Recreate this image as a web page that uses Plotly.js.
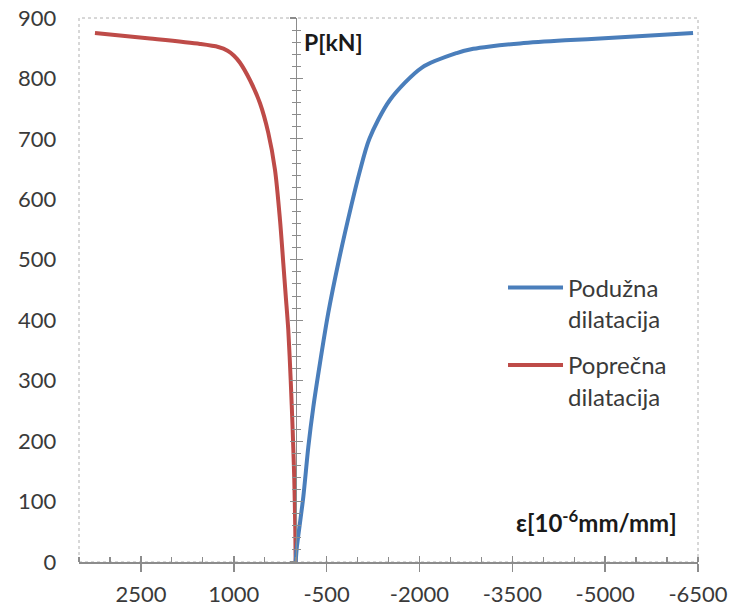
<!DOCTYPE html>
<html>
<head>
<meta charset="utf-8">
<script src="https://cdn.plot.ly/plotly-3.0.1.min.js"></script>
<style>html,body{margin:0;padding:0;background:#fff}#chart{width:730px;height:613px}</style>
</head>
<body>
<div id="chart"></div>
<script>
// Podužna dilatacija (longitudinal strain) in 10^-6 mm/mm, with load P [kN]
const podStrain = [0, -20, -124, -204, -285, -393, -527, -700, -900, -1030, -1190, -1520, -2040, -2602, -2870, -3140, -3624, -4351, -4917, -6420];
const podLoad   = [0, 25, 108, 190, 256, 329, 412, 500, 590, 644, 700, 764, 818, 842, 849, 853, 858, 863, 866, 875];
// Poprečna dilatacija (transverse strain)
const popStrain = [0, 6, 22, 48, 80, 119, 160, 200, 253, 334, 442, 576, 737, 899, 1000, 1100, 1250, 1545, 2353, 3242];
const popLoad   = [0, 53, 136, 218, 301, 384, 440, 495, 566, 649, 710, 759, 797, 826, 838, 846, 852, 857, 866, 875];

const xTickVals = [2500, 1000, -500, -2000, -3500, -5000, -6500];
const yTickVals = [0, 100, 200, 300, 400, 500, 600, 700, 800, 900];
const seriesNames = ['Podužna<br>dilatacija', 'Poprečna<br>dilatacija'];

const FONT = 'Lato, "Open Sans", sans-serif';
const TXT = '#3a3a3a';
const AX = '#8c8c8c';

const traces = [
  {x: popStrain, y: popLoad, name: seriesNames[1], legendgroup: 'b', legendrank: 2,
   type: 'scatter', mode: 'lines', xaxis: 'x', yaxis: 'y',
   line: {color: '#be4b48', width: 4, shape: 'spline', smoothing: 0.8}},
  {x: podStrain, y: podLoad, name: seriesNames[0], legendgroup: 'a', legendrank: 1,
   type: 'scatter', mode: 'lines', xaxis: 'x2', yaxis: 'y2',
   line: {color: '#4a7ebb', width: 4, shape: 'spline', smoothing: 0.8}}
];

const layout = {
  width: 730, height: 613,
  margin: {l: 79, r: 32, t: 18, b: 51},
  paper_bgcolor: '#fff', plot_bgcolor: '#fff',
  font: {family: FONT, color: TXT, size: 22},
  showlegend: true,
  legend: {x: 0.685, y: 0.545, xanchor: 'left', yanchor: 'top', valign: 'top',
           traceorder: 'grouped', tracegroupgap: 12, itemwidth: 55,
           font: {family: FONT, size: 24, color: TXT}, bgcolor: 'rgba(0,0,0,0)'},
  xaxis: {range: [3500, -6500], autorange: false, tickmode: 'array', tickvals: xTickVals,
          ticktext: xTickVals.map(String), showgrid: false, zeroline: false,
          showline: true, linecolor: AX, linewidth: 1.5,
          ticks: 'outside', ticklen: 8, tickcolor: AX, tickwidth: 1.5,
          ticklabelstandoff: 4,
          minor: {ticks: 'inside', tickmode: 'linear', tick0: 0, dtick: 500, ticklen: 5, tickcolor: AX, tickwidth: 1.2},
          tickfont: {family: FONT, size: 22, color: TXT}},
  xaxis2: {overlaying: 'x', anchor: 'y2', side: 'bottom', matches: 'x',
           tickmode: 'array', tickvals: xTickVals, showticklabels: false, showgrid: false,
           zeroline: false, showline: false, ticks: 'inside', ticklen: 6, tickcolor: AX, tickwidth: 1.5},
  yaxis: {range: [0, 900], autorange: false, anchor: 'free', position: 0.35, side: 'left',
          tickmode: 'array', tickvals: yTickVals,
          showgrid: false, zeroline: false, showline: true, linecolor: AX, linewidth: 1.2,
          ticks: 'outside', ticklen: 6, tickcolor: AX, tickwidth: 1.2,
          minor: {ticks: 'outside', tickmode: 'linear', tick0: 0, dtick: 20, ticklen: 4, tickcolor: AX, tickwidth: 1},
          ticklabelstandoff: 229, tickfont: {family: FONT, size: 22, color: TXT}},
  yaxis2: {overlaying: 'y', anchor: 'free', position: 0.35, side: 'left', matches: 'y',
           tickmode: 'array', tickvals: yTickVals, showticklabels: false,
           showgrid: false, zeroline: false, showline: false,
           ticks: 'inside', ticklen: 6, tickcolor: AX, tickwidth: 1.2,
           minor: {ticks: 'inside', tickmode: 'linear', tick0: 0, dtick: 20, ticklen: 4, tickcolor: AX, tickwidth: 1}},
  shapes: [
    {type: 'rect', xref: 'paper', yref: 'paper', x0: 0, x1: 1, y0: 0, y1: 1,
     line: {color: '#b0b0b0', width: 1, dash: 'dot'}, layer: 'below'}
  ],
  annotations: [
    {text: '<b>P[kN]</b>', xref: 'paper', yref: 'paper', x: 0.36, y: 0.985,
     xanchor: 'left', yanchor: 'top', showarrow: false,
     font: {family: FONT, size: 23, color: '#1a1a1a'}},
    {text: '<b>ε[10<sup>-6</sup>mm/mm]</b>', xref: 'paper', yref: 'paper', x: 0.97, y: 0.075,
     xanchor: 'right', yanchor: 'middle', showarrow: false,
     font: {family: FONT, size: 24, color: '#1a1a1a'}}
  ]
};

Plotly.newPlot('chart', traces, layout, {displayModeBar: false, staticPlot: true});
</script>
</body>
</html>
